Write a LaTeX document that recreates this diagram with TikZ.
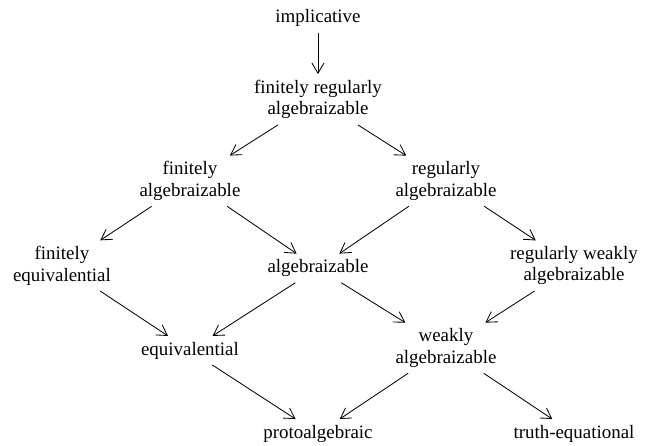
\documentclass[tikz,border=0pt]{standalone}
\usepackage{fontspec}
\setmainfont{Liberation Serif}
\usetikzlibrary{arrows.meta}

\tikzset{
  cls/.style={align=center, inner xsep=2pt, inner ysep=3pt, font=\fontsize{10.2}{11.6}\selectfont},
  imp/.style={->, line width=0.45pt}
}

\begin{document}
\begin{tikzpicture}[x=69pt, y=-44.8pt, >={Straight Barb[length=5.5pt,width=6.5pt]}]
			%%%%% START %%%%%
			\useasboundingbox (-0.484, -0.217) rectangle (4.594, 5.145);
			
			\node[cls] (impl) at (2, 0) {implicative};
			\node[cls] (frAlg) at (2, 0.98) {finitely regularly\\algebraizable};
			
			\node[cls] (fAlg) at (1, 1.96) {finitely\\algebraizable};
			\node[cls] (rAlg) at (3, 1.96) {regularly\\algebraizable};
			
			\node[cls] (fEquiv) at (0, 2.98) {finitely\\equivalential};
			\node[cls] (alg) at (2, 3.01) {algebraizable};
			\node[cls] (rwAlg) at (4, 2.98) {regularly weakly\\algebraizable};
			
			\node[cls] (equiv) at (1, 4.0) {equivalential};
			\node[cls] (wAlg) at (3, 3.97) {weakly\\algebraizable};
			
			\node[cls] (proto) at (2, 5.0) {protoalgebraic};
			\node[cls] (truth) at (4, 5.0) {truth-equational};
			
			\draw[imp] (impl) -- (frAlg);
			\draw[imp] (frAlg) -- (fAlg);
			\draw[imp] (frAlg) -- (rAlg);
			\draw[imp] (fAlg) -- (fEquiv);
			\draw[imp] (fAlg) -- (alg);
			\draw[imp] (rAlg) -- (alg);
			\draw[imp] (rAlg) -- (rwAlg);
			\draw[imp] (fEquiv) -- (equiv);
			\draw[imp] (alg) -- (equiv);
			\draw[imp] (alg) -- (wAlg);
			\draw[imp] (rwAlg) -- (wAlg);
			\draw[imp] (equiv) -- (proto);
			\draw[imp] (wAlg) -- (proto);
			\draw[imp] (wAlg) -- (truth);
			%%%%% END %%%%%
\end{tikzpicture}
\end{document}
